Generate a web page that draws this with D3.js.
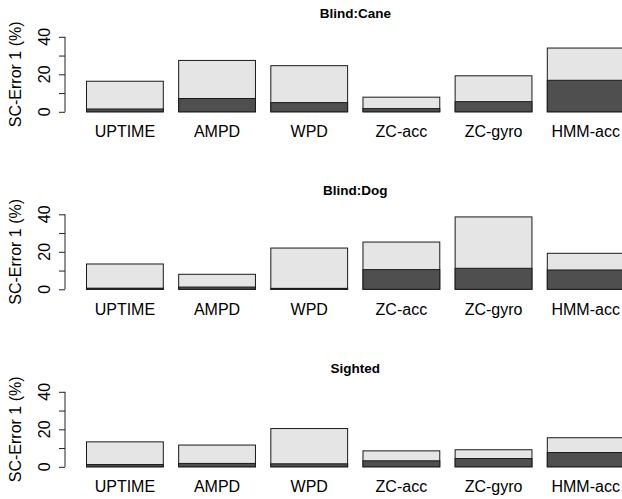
<!DOCTYPE html>
<html>
<head>
<meta charset="utf-8">
<script src="https://cdn.jsdelivr.net/npm/d3@7"></script>
<style>
	html, body { margin: 0; padding: 0; background: #fff; }
	svg { display: block; font-family: "Liberation Sans", Arial, Helvetica, sans-serif; }
</style>
</head>
<body>
<div id="viz-holder"></div>
<script>
// categories
let methods = ["UPTIME", "AMPD", "WPD", "ZC-acc", "ZC-gyro", "HMM-acc"];
let panelTitles = ["Blind:Cane", "Blind:Dog", "Sighted"];

// bar tops (light) and the dark bottom part, in %
let totalCane = [16.3, 27.4, 24.6, 7.8, 19.2, 34.0];
let darkCane = [1.5, 7.1, 4.9, 1.7, 5.4, 16.8];
let totalDog = [13.5, 8.0, 22.0, 25.2, 38.6, 19.2];
let darkDog = [0.6, 1.2, 0.5, 10.5, 11.2, 10.3];
let totalSighted = [13.3, 11.6, 20.4, 8.5, 9.1, 15.5];
let darkSighted = [1.2, 1.8, 1.6, 3.2, 4.4, 7.6];

let yTicks = [0, 10, 20, 30, 40];
let yTickLabels = [0, 20, 40];
let yTitle = "SC-Error 1 (%)";

let panels = [
	{ title: panelTitles[0], total: totalCane, dark: darkCane },
	{ title: panelTitles[1], total: totalDog, dark: darkDog },
	{ title: panelTitles[2], total: totalSighted, dark: darkSighted }
];

let width = 622;
let height = 499;
let axisX = 65;
let zeroY = [111.8, 289.3, 466.8];

let svg = d3.select('#viz-holder')
	.append('svg')
	.attr('width', width)
	.attr('height', height);

// R barplot: space 0.2, plot region runs off the right edge
let x = d3.scaleBand()
	.domain(methods)
	.range([axisX, 645.6])
	.paddingInner(1 / 6)
	.paddingOuter(0.2333);

let plotCenter = (axisX + 645.6) / 2;

panels.forEach(function (p, k) {
	let y = d3.scaleLinear()
		.domain([0, 40])
		.range([zeroY[k], zeroY[k] - 75]);

	let g = svg.append('g');

	// title
	g.append('text')
		.attr('x', plotCenter)
		.attr('y', zeroY[k] - 94.2)
		.attr('text-anchor', 'middle')
		.attr('font-size', '13.5px')
		.attr('font-weight', 'bold')
		.text(p.title);

	// y axis
	let yAxis = d3.axisLeft(y)
		.tickValues(yTicks)
		.tickSize(6)
		.tickFormat('');

	let ax = g.append('g')
		.attr('transform', 'translate(' + axisX + ',0)')
		.call(yAxis);
	ax.select('.domain').attr('d', 'M0,' + y(0) + 'V' + y(40)).attr('stroke', '#222');
	ax.selectAll('.tick line').attr('stroke', '#222');

	g.selectAll('.ylab')
		.data(yTickLabels)
		.enter()
		.append('text')
		.attr('class', 'ylab')
		.attr('transform', function (d) { return 'translate(49.5,' + y(d) + ') rotate(-90)'; })
		.attr('text-anchor', 'middle')
		.attr('font-size', '16px')
		.text(function (d) { return d; });

	g.append('text')
		.attr('transform', 'translate(21,' + y(20) + ') rotate(-90)')
		.attr('text-anchor', 'middle')
		.attr('font-size', '16px')
		.text(yTitle);

	// light bars (full height)
	g.selectAll('.lightbar')
		.data(methods)
		.enter()
		.append('rect')
		.attr('class', 'lightbar')
		.attr('x', function (d) { return x(d); })
		.attr('width', x.bandwidth())
		.attr('y', function (d, i) { return y(p.total[i]); })
		.attr('height', function (d, i) { return y(0) - y(p.total[i]); })
		.attr('fill', '#e5e5e5')
		.attr('stroke', '#1a1a1a')
		.attr('stroke-width', 1);

	// dark bottom part
	g.selectAll('.darkbar')
		.data(methods)
		.enter()
		.append('rect')
		.attr('class', 'darkbar')
		.attr('x', function (d) { return x(d); })
		.attr('width', x.bandwidth())
		.attr('y', function (d, i) { return y(p.dark[i]); })
		.attr('height', function (d, i) { return y(0) - y(p.dark[i]); })
		.attr('fill', '#4f4f4f')
		.attr('stroke', '#1a1a1a')
		.attr('stroke-width', 1);

	// category names
	g.selectAll('.xlab')
		.data(methods)
		.enter()
		.append('text')
		.attr('class', 'xlab')
		.attr('x', function (d) { return x(d) + x.bandwidth() / 2; })
		.attr('y', zeroY[k] + 25.2)
		.attr('text-anchor', 'middle')
		.attr('font-size', '16px')
		.text(function (d) { return d; });
});
</script>
</body>
</html>
